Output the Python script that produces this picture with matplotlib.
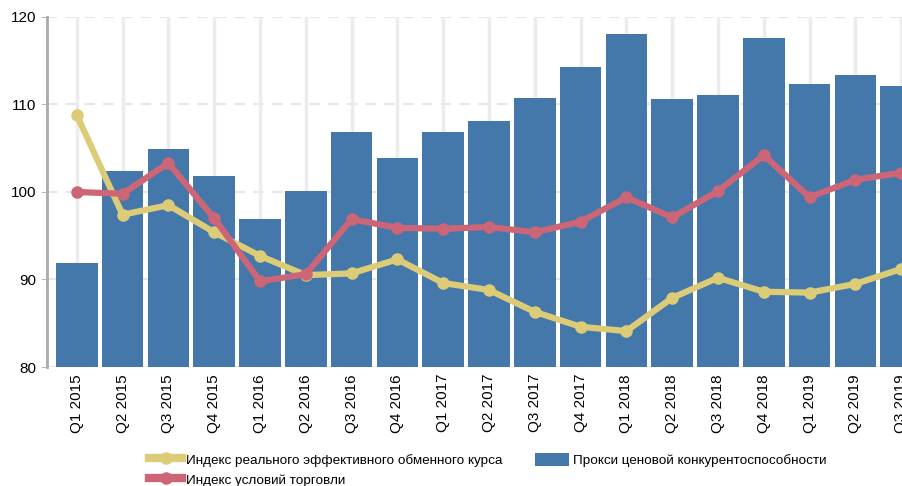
import numpy as np
import matplotlib.pyplot as plt
from matplotlib.lines import Line2D
from matplotlib.patches import Patch

plt.rcParams['font.family'] = ['Liberation Sans', 'DejaVu Sans']

# Данные
quarters = ['Q1 2015', 'Q2 2015', 'Q3 2015', 'Q4 2015',
            'Q1 2016', 'Q2 2016', 'Q3 2016', 'Q4 2016',
            'Q1 2017', 'Q2 2017', 'Q3 2017', 'Q4 2017',
            'Q1 2018', 'Q2 2018', 'Q3 2018', 'Q4 2018',
            'Q1 2019', 'Q2 2019', 'Q3 2019']

proxy = [91.9, 102.4, 104.9, 101.8, 96.9, 100.1, 106.9, 103.9, 106.9, 108.1,
         110.7, 114.3, 118.1, 110.6, 111.1, 117.6, 112.3, 113.4, 112.1]

reer = [108.8, 97.4, 98.5, 95.4, 92.7, 90.5, 90.7, 92.3, 89.6, 88.8,
        86.3, 84.6, 84.1, 87.9, 90.2, 88.6, 88.5, 89.5, 91.2]

tot = [100.0, 99.8, 103.3, 97.0, 89.8, 90.6, 96.9, 95.9, 95.8, 96.0,
       95.4, 96.6, 99.4, 97.1, 100.1, 104.2, 99.4, 101.4, 102.2]

blue = '#4477aa'
yellow = '#ddcc77'
red = '#cc6677'

x = np.arange(len(quarters))

fig = plt.figure(figsize=(9.03, 4.86), dpi=100)
ax = fig.add_axes([47 / 903, 1 - 367 / 486, 856 / 903, 350 / 486])

ax.bar(x, proxy, width=0.91, color=blue, zorder=2)
ax.plot(x, reer, color=yellow, lw=4.5, marker='o', ms=8, zorder=3)
ax.plot(x, tot, color=red, lw=4.5, marker='o', ms=8, zorder=4)

ax.set_ylim(80, 120)
ax.set_yticks([80, 90, 100, 110, 120])
ax.set_xlim(-0.65, 18.04)
ax.set_xticks(x)
ax.set_xticklabels(quarters, rotation=90, fontsize=11)
ax.tick_params(axis='y', labelsize=11, length=4, color='#bbbbbb')
ax.tick_params(axis='x', length=0, pad=5)

# Сетка
for v in [80, 90, 100, 110, 120]:
    ax.axhline(v, color='#e6e6e6', lw=1.5, ls=(0, (5, 4)), zorder=0)
ax.grid(axis='x', color='#ececec', lw=2.5, zorder=0)

for s in ['top', 'right', 'bottom']:
    ax.spines[s].set_visible(False)
ax.spines['left'].set_color('#aaaaaa')
ax.spines['left'].set_linewidth(2)

handles = [
    Line2D([], [], color=yellow, lw=6, marker='o', ms=8),
    Line2D([], [], color=red, lw=6, marker='o', ms=8),
    Patch(facecolor=blue),
]
labels = ['Индекс реального эффективного обменного курса',
          'Индекс условий торговли',
          'Прокси ценовой конкурентоспособности']
fig.legend(handles, labels, ncol=2, loc='upper left',
           bbox_to_anchor=(142 / 903, 1 - 446 / 486), frameon=False,
           fontsize=9.7, handlelength=2.5, handletextpad=0.3, handleheight=1.1,
           columnspacing=2.4, labelspacing=0.45, borderpad=0)

plt.savefig('out.png', dpi=100)
